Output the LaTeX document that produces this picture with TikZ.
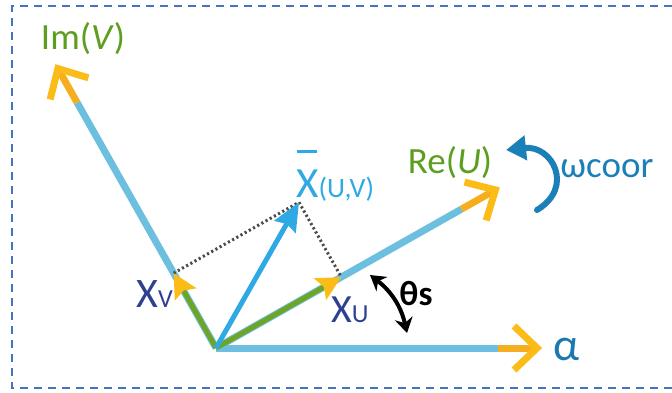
\documentclass[tikz,border=0pt]{standalone}
\usepackage{fontspec}
\setmainfont{Carlito}
\usetikzlibrary{arrows.meta,calc}
\definecolor{axisblue}{HTML}{6CBFDE}
\definecolor{axisyellow}{HTML}{FCBC18}
\definecolor{axisorange}{HTML}{F6AE1E}
\definecolor{vecgreen}{HTML}{6EA524}
\definecolor{xbarblue}{HTML}{2EA9E4}
\definecolor{navy}{HTML}{2E4090}
\definecolor{labelgreen}{HTML}{5C9E1F}
\definecolor{omegablue}{HTML}{1C80B8}
\definecolor{alphablue}{HTML}{1A7AB0}
\definecolor{borderblue}{HTML}{4472C4}
\begin{document}
\begin{tikzpicture}[x=1pt,y=1pt,
  frame/.style={line width=2pt, color=borderblue, dash pattern=on 8pt off 6pt},
  axisline/.style={line width=7pt, color=axisblue},
  axisyel/.style={line width=7pt, color=axisorange},
  chevron/.style={line width=7pt, color=axisyellow, line join=miter},
  compvec/.style={line width=5pt, color=vecgreen, -{Stealth[length=24pt,width=24pt,inset=4pt,color=axisyellow]}},
  xvec/.style={line width=5pt, color=xbarblue, -{Stealth[length=28pt,width=24pt,inset=3pt]}},
  dotline/.style={line width=3pt, color=black!70, dash pattern=on 2.2pt off 2.6pt},
  warrow/.style={line width=6pt, color=omegablue, -{Triangle[length=20pt,width=24pt]}},
  tharrow/.style={line width=4pt, color=black, {Stealth[length=15pt,width=18pt]}-{Stealth[length=15pt,width=18pt]}},
  lbl/.style={inner sep=0pt, font=\fontsize{37}{40}\selectfont}
]
\useasboundingbox (0,0) rectangle (672,392);
\draw[frame] (672,386) -- (12,386) -- (12,4) -- (672,4);

\coordinate (O) at (216,44);
\begin{scope}[shift={(O)}, rotate=0]
  \coordinate (Ay) at (282,0); \coordinate (At) at (321,0);
  \coordinate (Aa) at (298,22); \coordinate (Ab) at (298,-22);
\end{scope}
\begin{scope}[shift={(O)}, rotate=29.5]
  \coordinate (Ry) at (282,0); \coordinate (Rt) at (321,0);
  \coordinate (Ra) at (298,22); \coordinate (Rb) at (298,-22);
\end{scope}
\begin{scope}[shift={(O)}, rotate=119.5]
  \coordinate (Iy) at (282,0); \coordinate (It) at (321,0);
  \coordinate (Ia) at (298,22); \coordinate (Ib) at (298,-22);
\end{scope}

\foreach \n in {A,R,I}{
  \draw[axisline] (O) -- (\n y);
  \draw[axisyel] (\n y) -- (\n t);
  \draw[chevron] (\n a) -- (\n t) -- (\n b);
}

\coordinate (U) at ($(O)+(29.5:144)$);
\coordinate (V) at ($(O)+(119.5:86)$);
\coordinate (X) at ($(U)+(119.5:86)$);

\draw[dotline] (V) -- (X) -- (U);
\draw[compvec] (O) -- (U);
\draw[compvec] (O) -- (V);
\draw[xvec] (O) -- (X);

\coordinate (wS) at (537,182);
\coordinate (wE) at (506,242);
\draw[warrow, line cap=round] (wS) .. controls (575,205) and (552,247) .. (wE);

\coordinate (ta) at (370,117);
\coordinate (tb) at (407,59);
\draw[tharrow] (ta) to[bend left=20] (tb);

\node[lbl, text=labelgreen, anchor=base] (imlab) at (83,343) {Im(\textit{V})};
\node[lbl, text=labelgreen, anchor=base] (relab) at (450,219) {Re(\textit{U})};
\node[lbl, text=omegablue, anchor=base] (wlab) at (607,215) {ωcoor};
\node[lbl, text=alphablue, anchor=base, font=\fontsize{46}{50}\selectfont] (alab) at (567,32) {α};
\node[lbl, text=black, anchor=base, font=\fontsize{35}{40}\selectfont\bfseries] (thlab) at (416,87) {θs};
\node[lbl, text=navy, anchor=base west] (xvlab) at (136,85) {\fontsize{42}{44}\selectfont X\fontsize{26}{28}\selectfont V};
\node[lbl, text=navy, anchor=base west] (xulab) at (331,70) {\fontsize{40}{44}\selectfont X\fontsize{26}{28}\selectfont U};
\node[lbl, text=xbarblue, anchor=base west] (xblab) at (296,195) {\fontsize{43}{44}\selectfont\makebox[0pt][l]{\hspace{1pt}\raisebox{44pt}{\rule{20pt}{3pt}}}X\fontsize{28}{30}\selectfont(U,V)};
\end{tikzpicture}
\end{document}
